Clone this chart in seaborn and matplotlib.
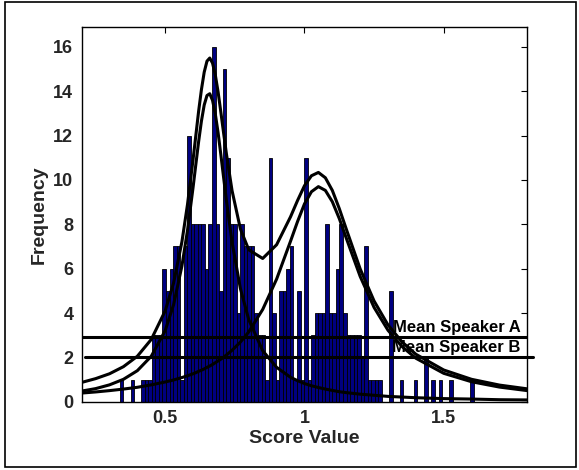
import numpy as np
import pandas as pd
import seaborn as sns
import matplotlib
matplotlib.use("Agg")
import matplotlib.pyplot as plt
from matplotlib.patches import Rectangle

# ---------------- data ----------------
bin_lo = 0.3375
bin_hi = 1.6086
counts = [1, 0, 0, 1, 0, 0, 1, 1, 1, 3,
          3, 3, 6, 5, 6, 7, 7, 1, 7, 12,
          8, 8, 8, 8, 6, 8, 16, 8, 5, 15,
          11, 8, 8, 4, 8, 7, 7, 7, 4, 3,
          3, 1, 11, 4, 1, 5, 5, 6, 7, 1,
          5, 1, 11, 1, 3, 4, 4, 4, 8, 4,
          4, 6, 8, 4, 3, 3, 3, 3, 2, 7,
          1, 1, 1, 1, 0, 0, 5, 0, 0, 1,
          0, 0, 0, 1, 0, 0, 2, 0, 1, 0,
          1, 0, 0, 1, 0, 0, 0, 0, 0, 1]

curve_x = [0.20, 0.25, 0.30, 0.35, 0.40, 0.45, 0.50, 0.53, 0.56, 0.58,
           0.60, 0.61, 0.62, 0.63, 0.64, 0.65, 0.66, 0.67, 0.68, 0.69,
           0.70, 0.71, 0.72, 0.74, 0.77, 0.80, 0.85, 0.90, 0.95, 0.975,
           1.00, 1.025, 1.05, 1.075, 1.10, 1.125, 1.15, 1.20, 1.25, 1.30,
           1.35, 1.40, 1.50, 1.60, 1.70, 1.80]
fit_total = [0.87, 1.04, 1.26, 1.58, 2.05, 2.81, 4.10, 5.35, 7.21, 8.89,
             10.92, 12.01, 13.10, 14.07, 14.86, 15.36, 15.50, 15.27, 14.73, 13.96,
             13.04, 12.09, 11.16, 9.52, 7.79, 6.85, 6.46, 7.08, 8.34, 9.07,
             9.74, 10.19, 10.34, 10.10, 9.53, 8.71, 7.79, 5.99, 4.54, 3.46,
             2.70, 2.14, 1.43, 1.01, 0.75, 0.58]
fit_speaker_a = [0.48, 0.59, 0.76, 1.01, 1.40, 2.05, 3.21, 4.37, 6.12, 7.72,
                 9.66, 10.70, 11.73, 12.65, 13.38, 13.81, 13.89, 13.59, 12.97, 12.12,
                 11.12, 10.08, 9.05, 7.20, 5.10, 3.70, 2.30, 1.55, 1.10, 0.95,
                 0.82, 0.72, 0.64, 0.57, 0.51, 0.45, 0.41, 0.34, 0.29, 0.24,
                 0.21, 0.18, 0.14, 0.12, 0.09, 0.08]
fit_speaker_b = [0.39, 0.44, 0.50, 0.57, 0.65, 0.76, 0.89, 0.98, 1.09, 1.17,
                 1.26, 1.31, 1.37, 1.42, 1.48, 1.55, 1.61, 1.68, 1.76, 1.84,
                 1.92, 2.01, 2.11, 2.32, 2.69, 3.15, 4.16, 5.53, 7.24, 8.12,
                 8.92, 9.47, 9.70, 9.53, 9.02, 8.26, 7.38, 5.65, 4.25, 3.22,
                 2.49, 1.96, 1.28, 0.90, 0.66, 0.50]

mean_labels = ["Mean Speaker A", "Mean Speaker B"]
mean_values = [2.9, 2.0]

x_ticks = [0.5, 1.0, 1.5]
x_tick_labels = ["0.5", "1", "1.5"]
y_ticks = [0, 2, 4, 6, 8, 10, 12, 14, 16]

# ---------------- style ----------------
sns.set_theme(style="white")
plt.rcParams["font.family"] = ["Liberation Sans", "DejaVu Sans"]
plt.rcParams["font.weight"] = "bold"
plt.rcParams["axes.labelweight"] = "bold"

fig = plt.figure(figsize=(5.79, 4.70), dpi=100)
ax = fig.add_axes([0.141, 0.1453, 0.7697, 0.7973])

n_bins = len(counts)
bin_w = (bin_hi - bin_lo) / n_bins
centers = [bin_lo + bin_w * (i + 0.5) for i in range(n_bins)]
df = pd.DataFrame({"score": centers, "count": counts})

sns.histplot(data=df, x="score", weights="count", bins=n_bins,
             binrange=(bin_lo, bin_hi), ax=ax,
             color="#000080", edgecolor="black", linewidth=0.6, alpha=1.0,
             zorder=2)

# horizontal mean lines
ax.axhline(mean_values[0], xmin=0.0, xmax=1.0, color="black", lw=2.2, zorder=3)
ax.axhline(mean_values[1], xmin=0.007, xmax=1.013, color="black", lw=2.2,
           zorder=3, clip_on=False)
for lab, val in zip(mean_labels, mean_values):
    ax.text(1.776, val + 0.25, lab, ha="right", va="baseline", fontsize=12,
            fontweight="bold", color="black", zorder=3)

curves = pd.DataFrame({"x": curve_x, "total": fit_total,
                       "a": fit_speaker_a, "b": fit_speaker_b})
for col in ["total", "a", "b"]:
    sns.lineplot(data=curves, x="x", y=col, ax=ax, color="black", lw=2.2,
                 zorder=4, sort=False)

ax.set_xlim(0.2, 1.8)
ax.set_ylim(0, 16.9)
ax.set_xticks(x_ticks)
ax.set_xticklabels(x_tick_labels)
ax.set_yticks(y_ticks)
ax.set_xlabel("Score Value", fontsize=14, fontweight="bold", labelpad=2)
ax.set_ylabel("Frequency", fontsize=14, fontweight="bold", labelpad=4)
ax.tick_params(axis="both", which="both", direction="in", length=4, width=0.8,
               top=True, right=True, labelsize=13, pad=6, color="black")
for lbl in ax.get_xticklabels() + ax.get_yticklabels():
    lbl.set_fontweight("bold")
for s in ax.spines.values():
    s.set_color("black")
    s.set_linewidth(1.0)
    s.set_visible(True)

fig.patches.append(Rectangle((5 / 579, 1 - 467 / 470), 571 / 579, 465 / 470,
                             transform=fig.transFigure, fill=False,
                             edgecolor="black", lw=1.2))

fig.savefig("out.png", dpi=100, facecolor="white")
